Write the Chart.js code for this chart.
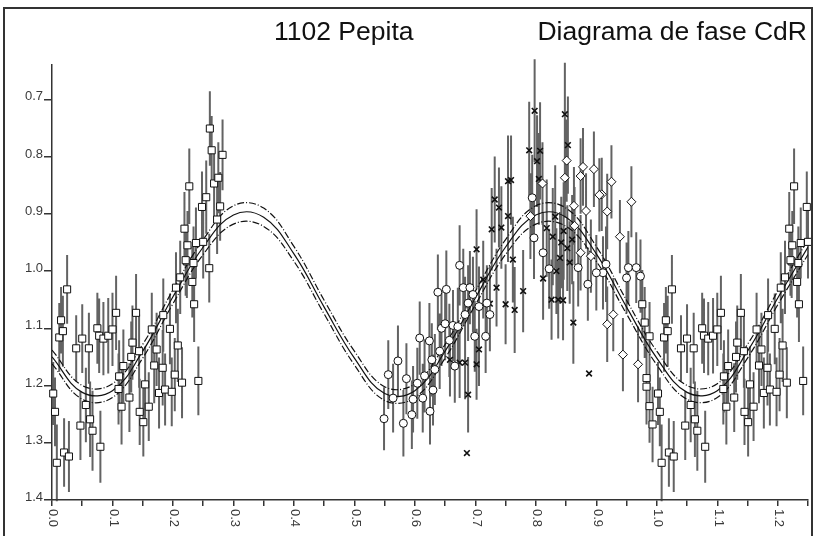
<!DOCTYPE html>
<html>
<head>
<meta charset="utf-8">
<script src="https://cdn.jsdelivr.net/npm/chart.js@4/dist/chart.umd.min.js"></script>
<style>
  body { margin: 0; background: #fff; overflow: hidden; }
  #wrap { position: relative; width: 815px; height: 536px; }
  #frame { position: absolute; left: 3px; top: 7px; width: 806px; height: 540px;
           border: 2px solid #333; border-bottom: none; pointer-events: none; }
  .ttl { position: absolute; top: 18px; font: 26.5px "Liberation Sans", Arial, sans-serif;
         line-height: 26px; color: #111; white-space: nowrap; }
</style>
</head>
<body>
<div id="wrap">
  <canvas id="c"></canvas>
  <div id="frame"></div>
  <div class="ttl" style="left:274px">1102 Pepita</div>
  <div class="ttl" style="right:8px">Diagrama de fase CdR</div>
</div>
<script>
// squares (phase, reduced mag, error) - phases < 0.25 are repeated at +1
const sqPhase = [0.002,0.005,0.008,0.012,0.015,0.018,0.020,0.025,0.028,0.040,0.047,0.050,0.056,0.061,0.063,0.067,0.075,0.078,0.080,0.085,
  0.093,0.100,0.106,0.110,0.111,0.115,0.118,0.128,0.131,0.133,0.139,0.144,0.145,0.151,0.154,0.160,0.165,0.169,0.173,0.177,
  0.183,0.184,0.187,0.195,0.198,0.203,0.205,0.208,0.215,0.212,0.223,0.235,0.242,
  0.261,0.264,0.282,0.268,0.275,0.227,0.255,0.248,0.278,0.273,0.219,0.238,0.250,0.224,0.221,0.234,0.260,0.232,
  0.976,0.980,0.988,0.983,0.983,0.988,0.993]
const sqMag = [1.214,1.246,1.335,1.116,1.086,1.105,1.317,1.032,1.324,1.135,1.270,1.118,1.234,1.135,1.259,1.279,1.100,1.113,1.307,1.118,
  1.113,1.102,1.073,1.206,1.184,1.237,1.166,1.221,1.150,1.125,1.073,1.140,1.246,1.264,1.198,1.237,1.102,1.165,1.137,1.213,
  1.169,1.077,1.207,1.101,1.211,1.181,1.029,1.130,1.195,1.011,0.983,1.058,1.192,
  0.751,0.789,0.797,0.847,0.837,0.852,0.871,0.888,0.887,0.910,0.926,0.951,0.949,0.955,0.981,0.986,0.995,1.019,
  1.058,1.090,1.114,1.187,1.202,1.236,1.268]
const sqErr = [0.055,0.060,0.067,0.060,0.058,0.062,0.060,0.060,0.062,0.058,0.060,0.060,0.065,0.062,0.066,0.070,0.062,0.065,0.063,0.064,
  0.066,0.064,0.065,0.062,0.063,0.066,0.064,0.060,0.062,0.065,0.068,0.064,0.058,0.060,0.066,0.060,0.064,0.066,0.064,0.062,
  0.066,0.064,0.063,0.062,0.060,0.064,0.062,0.064,0.062,0.064,0.064,0.066,0.060,
  0.065,0.060,0.062,0.060,0.062,0.066,0.064,0.062,0.060,0.060,0.064,0.062,0.064,0.060,0.062,0.064,0.060,0.062,
  0.060,0.062,0.060,0.064,0.066,0.064,0.066]

// circles
const circPhase = [0.556,0.549,0.572,0.564,0.581,0.586,0.595,0.597,0.613,0.625,0.630,0.608,0.624,0.628,0.633,0.638,0.652,0.644,0.650,0.663,
  0.666,0.674,0.683,0.680,0.691,0.696,0.699,0.717,0.719,0.724,0.688,0.794,0.797,0.812,0.953,0.966,0.973,0.950,0.916,0.911,
  0.900,0.886,0.822,0.870,0.604,0.616,0.641,0.657,0.671,0.706]
const circMag = [1.181,1.258,1.157,1.222,1.266,1.188,1.251,1.224,1.222,1.245,1.208,1.117,1.122,1.155,1.172,1.037,1.032,1.100,1.092,1.095,
  1.166,0.990,1.076,1.029,1.029,1.041,1.114,1.114,1.056,1.076,1.056,0.872,0.942,0.968,0.994,0.994,1.009,1.012,0.988,1.003,
  1.003,1.023,0.996,0.994,1.196,1.183,1.140,1.121,1.097,1.062]
const circErr = [0.060,0.055,0.062,0.060,0.058,0.062,0.060,0.058,0.060,0.058,0.062,0.064,0.066,0.064,0.062,0.066,0.068,0.066,0.064,0.062,
  0.064,0.070,0.066,0.068,0.064,0.066,0.062,0.064,0.066,0.064,0.066,0.075,0.072,0.070,0.064,0.062,0.064,0.062,0.066,0.064,
  0.066,0.064,0.070,0.068,0.062,0.064,0.066,0.064,0.068,0.070]

// crosses
const crossPhase = [0.688,0.686,0.702,0.683,0.702,0.727,0.732,0.739,0.743,0.754,0.762,0.735,0.750,0.765,0.779,0.754,0.713,0.724,0.706,0.674,
  0.658,0.798,0.848,0.789,0.853,0.807,0.802,0.759,0.805,0.812,0.826,0.837,0.845,0.862,0.888,0.834,0.840,
  0.818,0.828,0.832,0.842,0.846,0.852,0.856,0.860]
const crossMag = [1.216,1.318,1.163,1.160,0.962,0.927,0.875,0.889,0.924,0.904,0.980,1.029,1.058,1.068,1.035,0.843,1.015,1.057,1.137,1.160,
  1.155,0.720,0.726,0.789,0.780,0.790,0.808,0.841,0.839,1.013,1.050,1.050,1.051,1.090,1.179,1.000,0.977,
  0.925,0.940,0.905,0.950,0.930,0.960,0.985,0.945]
const crossErr = [0.066,0,0.062,0.064,0.070,0.072,0.075,0.070,0.072,0.080,0.075,0.068,0.070,0.075,0.072,0.080,0.068,0.066,0.064,0.062,
  0.064,0.090,0.090,0.085,0.085,0.085,0.080,0.078,0.080,0.072,0.070,0.068,0.070,0.072,0,0.075,0.080,
  0.085,0.085,0.090,0.080,0.085,0.075,0.072,0.078]

// diamonds
const diaPhase = [0.925,0.958,0.939,0.918,0.928,0.918,0.944,0.969,0.909,0.791,0.811,0.848,0.851,0.874,0.878,0.896,0.905,0.863,0.883,0.864,
  0.874,0.891]
const diaMag = [0.844,0.879,0.940,0.896,1.076,1.093,1.146,1.163,0.866,0.904,0.847,0.837,0.807,0.834,0.818,0.822,0.867,0.886,0.895,0.921,
  0.968,0.974]
const diaErr = [0.064,0.062,0.064,0.066,0.064,0.066,0.064,0.066,0.064,0.075,0.072,0.070,0.072,0.066,0.068,0.066,0.064,0.068,0.066,0.068,
  0.066,0.064]

// fitted curve and its error band, read every 0.05 in phase
const curvePhase = [0,0.05,0.10,0.15,0.20,0.25,0.30,0.35,0.40,0.45,0.50,0.55,0.60,0.65,0.70,0.75,0.80,0.85,0.90,0.95,1.00,1.05,1.10,1.15,1.20,1.25]
const curveMid = [1.150,1.212,1.209,1.140,1.045,0.958,0.902,0.906,0.970,1.063,1.152,1.214,1.209,1.140,1.047,0.958,0.902,0.906,0.970,1.063,1.152,1.212,1.209,1.140,1.047,0.958]
const curveUpper = [1.138,1.200,1.197,1.128,1.033,0.945,0.886,0.890,0.957,1.051,1.140,1.202,1.197,1.128,1.035,0.945,0.886,0.890,0.957,1.051,1.140,1.200,1.197,1.128,1.035,0.945]
const curveLower = [1.162,1.224,1.221,1.152,1.057,0.971,0.918,0.922,0.983,1.075,1.164,1.226,1.221,1.152,1.059,0.971,0.918,0.922,0.983,1.075,1.164,1.224,1.221,1.152,1.059,0.971]

const yTicks = [0.7,0.8,0.9,1.0,1.1,1.2,1.3,1.4]
const yLabels = ['0.7','0.8','0.9','1.0','1.1','1.2','1.3','1.4']
const xTicks = [0,0.05,0.1,0.15,0.2,0.25,0.3,0.35,0.4,0.45,0.5,0.55,0.6,0.65,0.7,0.75,0.8,0.85,0.9,0.95,1.0,1.05,1.1,1.15,1.2,1.25]
const xLabelVals = [0,0.1,0.2,0.3,0.4,0.5,0.6,0.7,0.8,0.9,1.0,1.1,1.2]
const xLabels = ['0.0','0.1','0.2','0.3','0.4','0.5','0.6','0.7','0.8','0.9','1.0','1.1','1.2']

function pts(ph, mg, er, wrap) {
  const out = []
  for (let i = 0; i < ph.length; i++) {
    out.push({x: ph[i], y: mg[i], e: er[i]})
    if (wrap && ph[i] + 1 <= 1.25) out.push({x: ph[i] + 1, y: mg[i], e: er[i]})
  }
  return out
}
const squares = pts(sqPhase, sqMag, sqErr, true)
const circles = pts(circPhase, circMag, circErr, false)
const crosses = pts(crossPhase, crossMag, crossErr, false)
const diamonds = pts(diaPhase, diaMag, diaErr, false)

// error bars as broken line segments
const errData = []
for (const p of [].concat(squares, circles, crosses, diamonds)) {
  if (!p.e) continue
  errData.push({x: p.x, y: p.y - p.e}, {x: p.x, y: p.y + p.e}, {x: p.x, y: null})
}

const curve = (ys) => curvePhase.map((x, i) => ({x: x, y: ys[i]}))

const markerDs = (data, style, r, bw) => ({
  type: 'scatter', data: data, order: 1, clip: false,
  pointStyle: style, pointRadius: r, pointBackgroundColor: '#fff',
  pointBorderColor: '#111', pointBorderWidth: bw || 1
})
const curveDs = (ys, dash) => ({
  type: 'line', data: curve(ys), order: 2, borderColor: '#111', borderWidth: 1.2,
  borderDash: dash, pointRadius: 0, tension: 0.4, fill: false
})

const axisLabels = {
  id: 'axisLabels',
  afterDraw(chart) {
    const ctx = chart.ctx, xs = chart.scales.x, ys = chart.scales.y
    ctx.save()
    ctx.fillStyle = '#3a3a3a'
    ctx.font = '13px "Liberation Sans", Arial, sans-serif'
    ctx.textAlign = 'right'
    ctx.textBaseline = 'alphabetic'
    yTicks.forEach((v, i) => {
      ctx.fillText(yLabels[i], 43, ys.getPixelForValue(v) + 1)
    })
    ctx.textAlign = 'left'
    ctx.textBaseline = 'middle'
    xLabelVals.forEach((v, i) => {
      ctx.save()
      ctx.translate(xs.getPixelForValue(v) + 1, chart.chartArea.bottom + 9)
      ctx.rotate(Math.PI / 2)
      ctx.fillText(xLabels[i], 0, 0)
      ctx.restore()
    })
    ctx.restore()
  }
}

new Chart(document.getElementById('c'), {
  type: 'scatter',
  data: {
    datasets: [
      markerDs(squares, 'rect', 5),
      markerDs(circles, 'circle', 4),
      markerDs(diamonds, 'rectRot', 4.5),
      markerDs(crosses, 'crossRot', 4, 1.6),
      curveDs(curveMid, []),
      curveDs(curveUpper, [7, 2, 1, 2]),
      curveDs(curveLower, [7, 2, 1, 2]),
      {type: 'line', data: errData, order: 3, borderColor: 'rgba(55,55,55,0.78)', borderWidth: 2,
       pointRadius: 0, spanGaps: false, clip: false}
    ]
  },
  options: {
    responsive: true,
    maintainAspectRatio: false,
    animation: false,
    events: [],
    layout: {padding: {left: 0, top: 65, right: 7, bottom: 0}},
    plugins: {legend: {display: false}, tooltip: {enabled: false}},
    scales: {
      x: {
        type: 'linear', min: 0, max: 1.25,
        afterBuildTicks: (s) => { s.ticks = xTicks.map(v => ({value: v})) },
        afterFit: (s) => { s.height = 36 },
        ticks: {display: false},
        grid: {drawOnChartArea: false, drawTicks: true, tickLength: 6, color: '#333', lineWidth: 1.5},
        border: {color: '#333', width: 1.5}
      },
      y: {
        type: 'linear', min: 0.64, max: 1.4, reverse: true,
        afterBuildTicks: (s) => { s.ticks = yTicks.map(v => ({value: v})) },
        afterFit: (s) => { s.width = 52 },
        ticks: {display: false},
        grid: {drawOnChartArea: false, drawTicks: true, tickLength: 8, color: '#333', lineWidth: 1.5},
        border: {color: '#333', width: 1.5}
      }
    }
  },
  plugins: [axisLabels]
})
</script>
</body>
</html>
